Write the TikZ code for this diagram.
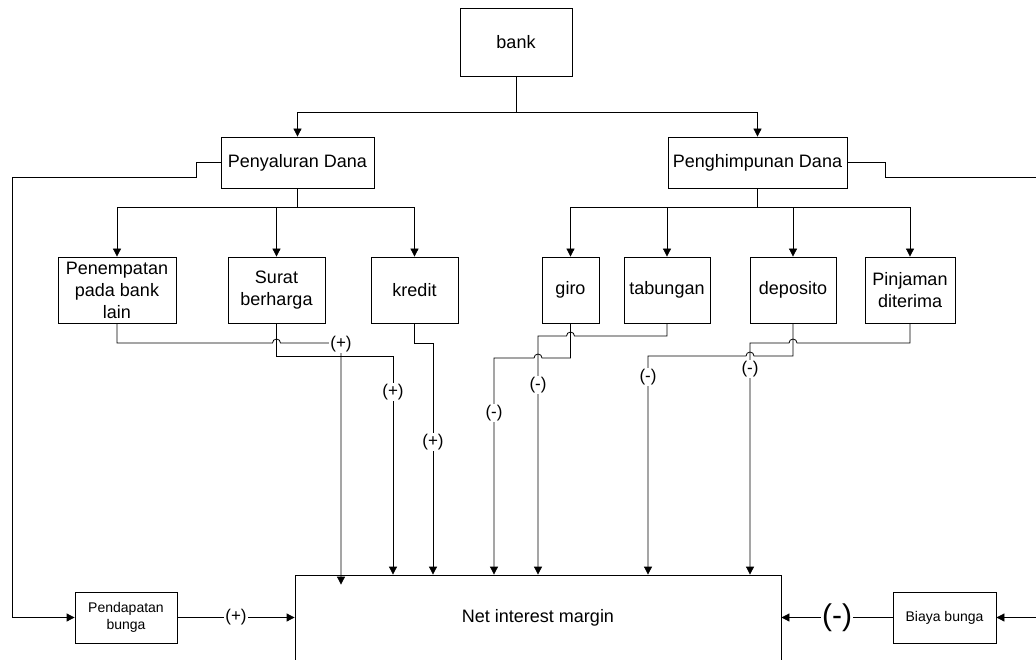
\documentclass[tikz,border=0pt]{standalone}
\usepackage{fontspec}
\setmainfont{Liberation Sans}
\usetikzlibrary{arrows.meta,calc}
\begin{document}
\begin{tikzpicture}[x=1pt,y=-1pt,
  box/.style={draw, line width=0.8pt, align=center, inner sep=0pt, font=\fontsize{18}{22}\selectfont},
  arr/.style={draw, line width=0.8pt, -{Triangle[length=8pt,width=8pt]}},
  ln/.style={draw, line width=0.8pt},
  lbl/.style={fill=white, inner sep=1pt, font=\fontsize{17}{17}\selectfont},
  biglbl/.style={fill=white, inner sep=1pt, font=\fontsize{30}{30}\selectfont},
]
\useasboundingbox (0,0) rectangle (1036,660);

% nodes
\node[box, minimum width=112pt, minimum height=68pt] (bank) at (516,42) {bank};
\node[box, minimum width=153pt, minimum height=51pt] (pyl) at (297.5,162.5) {Penyaluran Dana};
\node[box, minimum width=179pt, minimum height=51pt] (phm) at (757.5,162.5) {Penghimpunan Dana};

\node[box, minimum width=118pt, minimum height=66pt] (pen) at (117,290) {Penempatan\\pada bank\\lain};
\node[box, minimum width=97pt, minimum height=66pt] (sur) at (276.5,290) {Surat\\berharga};
\node[box, minimum width=87pt, minimum height=66pt] (kre) at (414.5,290) {kredit};

\node[box, minimum width=57pt, minimum height=66pt] (giro) at (570.5,290) {giro};
\node[box, minimum width=86pt, minimum height=66pt] (tab) at (667,290) {tabungan};
\node[box, minimum width=86pt, minimum height=66pt] (dep) at (793,290) {deposito};
\node[box, minimum width=90pt, minimum height=66pt] (pin) at (910,290) {Pinjaman\\diterima};

\node[box, minimum width=486pt, minimum height=86pt] (nim) at (538,618) {Net interest margin};
\node[box, minimum width=102pt, minimum height=51pt, font=\fontsize{14}{17}\selectfont] (pdb) at (126,617.5) {Pendapatan\\bunga};
\node[box, minimum width=103pt, minimum height=51pt, font=\fontsize{14}{17}\selectfont] (bb) at (944.5,617.5) {Biaya bunga};

% tree connectors
\draw[arr] (bank.south) -- ++(0,36) -| (pyl.north);
\draw[arr] (bank.south) -- ++(0,36) -| (phm.north);
\foreach \c in {pen,sur,kre} \draw[arr] (pyl.south) -- ++(0,19) -| (\c.north);
\foreach \c in {giro,tab,dep,pin} \draw[arr] (phm.south) -- ++(0,19) -| (\c.north);

% side connectors
\coordinate (lc) at (12,177);
\coordinate (rc) at (1040,177);
\draw[arr] (pyl.west) -- ++(-24,0) |- (lc) |- (pdb.west);
\draw[arr] (phm.east) -- ++(38,0) |- (rc) |- (bb.east);
\draw[arr] (pdb.east) -- node[lbl]{(+)} (pdb.east -| nim.west);
\draw[arr] (bb.west) -- node[biglbl]{(-)} (bb.west -| nim.east);

% corners
\coordinate (c1) at (341,343);
\coordinate (c2) at (393,356);
\coordinate (c3) at (433,343);
\coordinate (c4) at (494,358);
\coordinate (c5) at (538,336);
\coordinate (c6) at (648,356);
\coordinate (c7) at (750,343);

% left group
\draw[arr] (pen.south) |- ($(sur.south |- c1)+(-4,0)$) arc[start angle=180,end angle=360,radius=4] -| ($(c1 |- nim.north)+(0,10)$);
\draw[arr] (sur.south) |- (c2) -- (c2 |- nim.north);
\draw[arr] (kre.south) |- (c3) -- (c3 |- nim.north);

% right group
\draw[arr] (giro.south) |- ($(c5 |- c4)+(4,0)$) arc[start angle=360,end angle=180,radius=4] -| (c4 |- nim.north);
\draw[arr] (tab.south) |- ($(giro.south |- c5)+(4,0)$) arc[start angle=360,end angle=180,radius=4] -| (c5 |- nim.north);
\draw[arr] (dep.south) |- ($(c7 |- c6)+(4,0)$) arc[start angle=360,end angle=180,radius=4] -| (c6 |- nim.north);
\draw[arr] (pin.south) |- ($(dep.south |- c7)+(4,0)$) arc[start angle=360,end angle=180,radius=4] -| (c7 |- nim.north);

% labels
\node[lbl] at (341,344) {(+)};
\node[lbl] at (393,392) {(+)};
\node[lbl] at (433,442) {(+)};
\node[lbl] at (494,413) {(-)};
\node[lbl] at (538,385) {(-)};
\node[lbl] at (648,377) {(-)};
\node[lbl] at (750,369) {(-)};
\end{tikzpicture}
\end{document}
